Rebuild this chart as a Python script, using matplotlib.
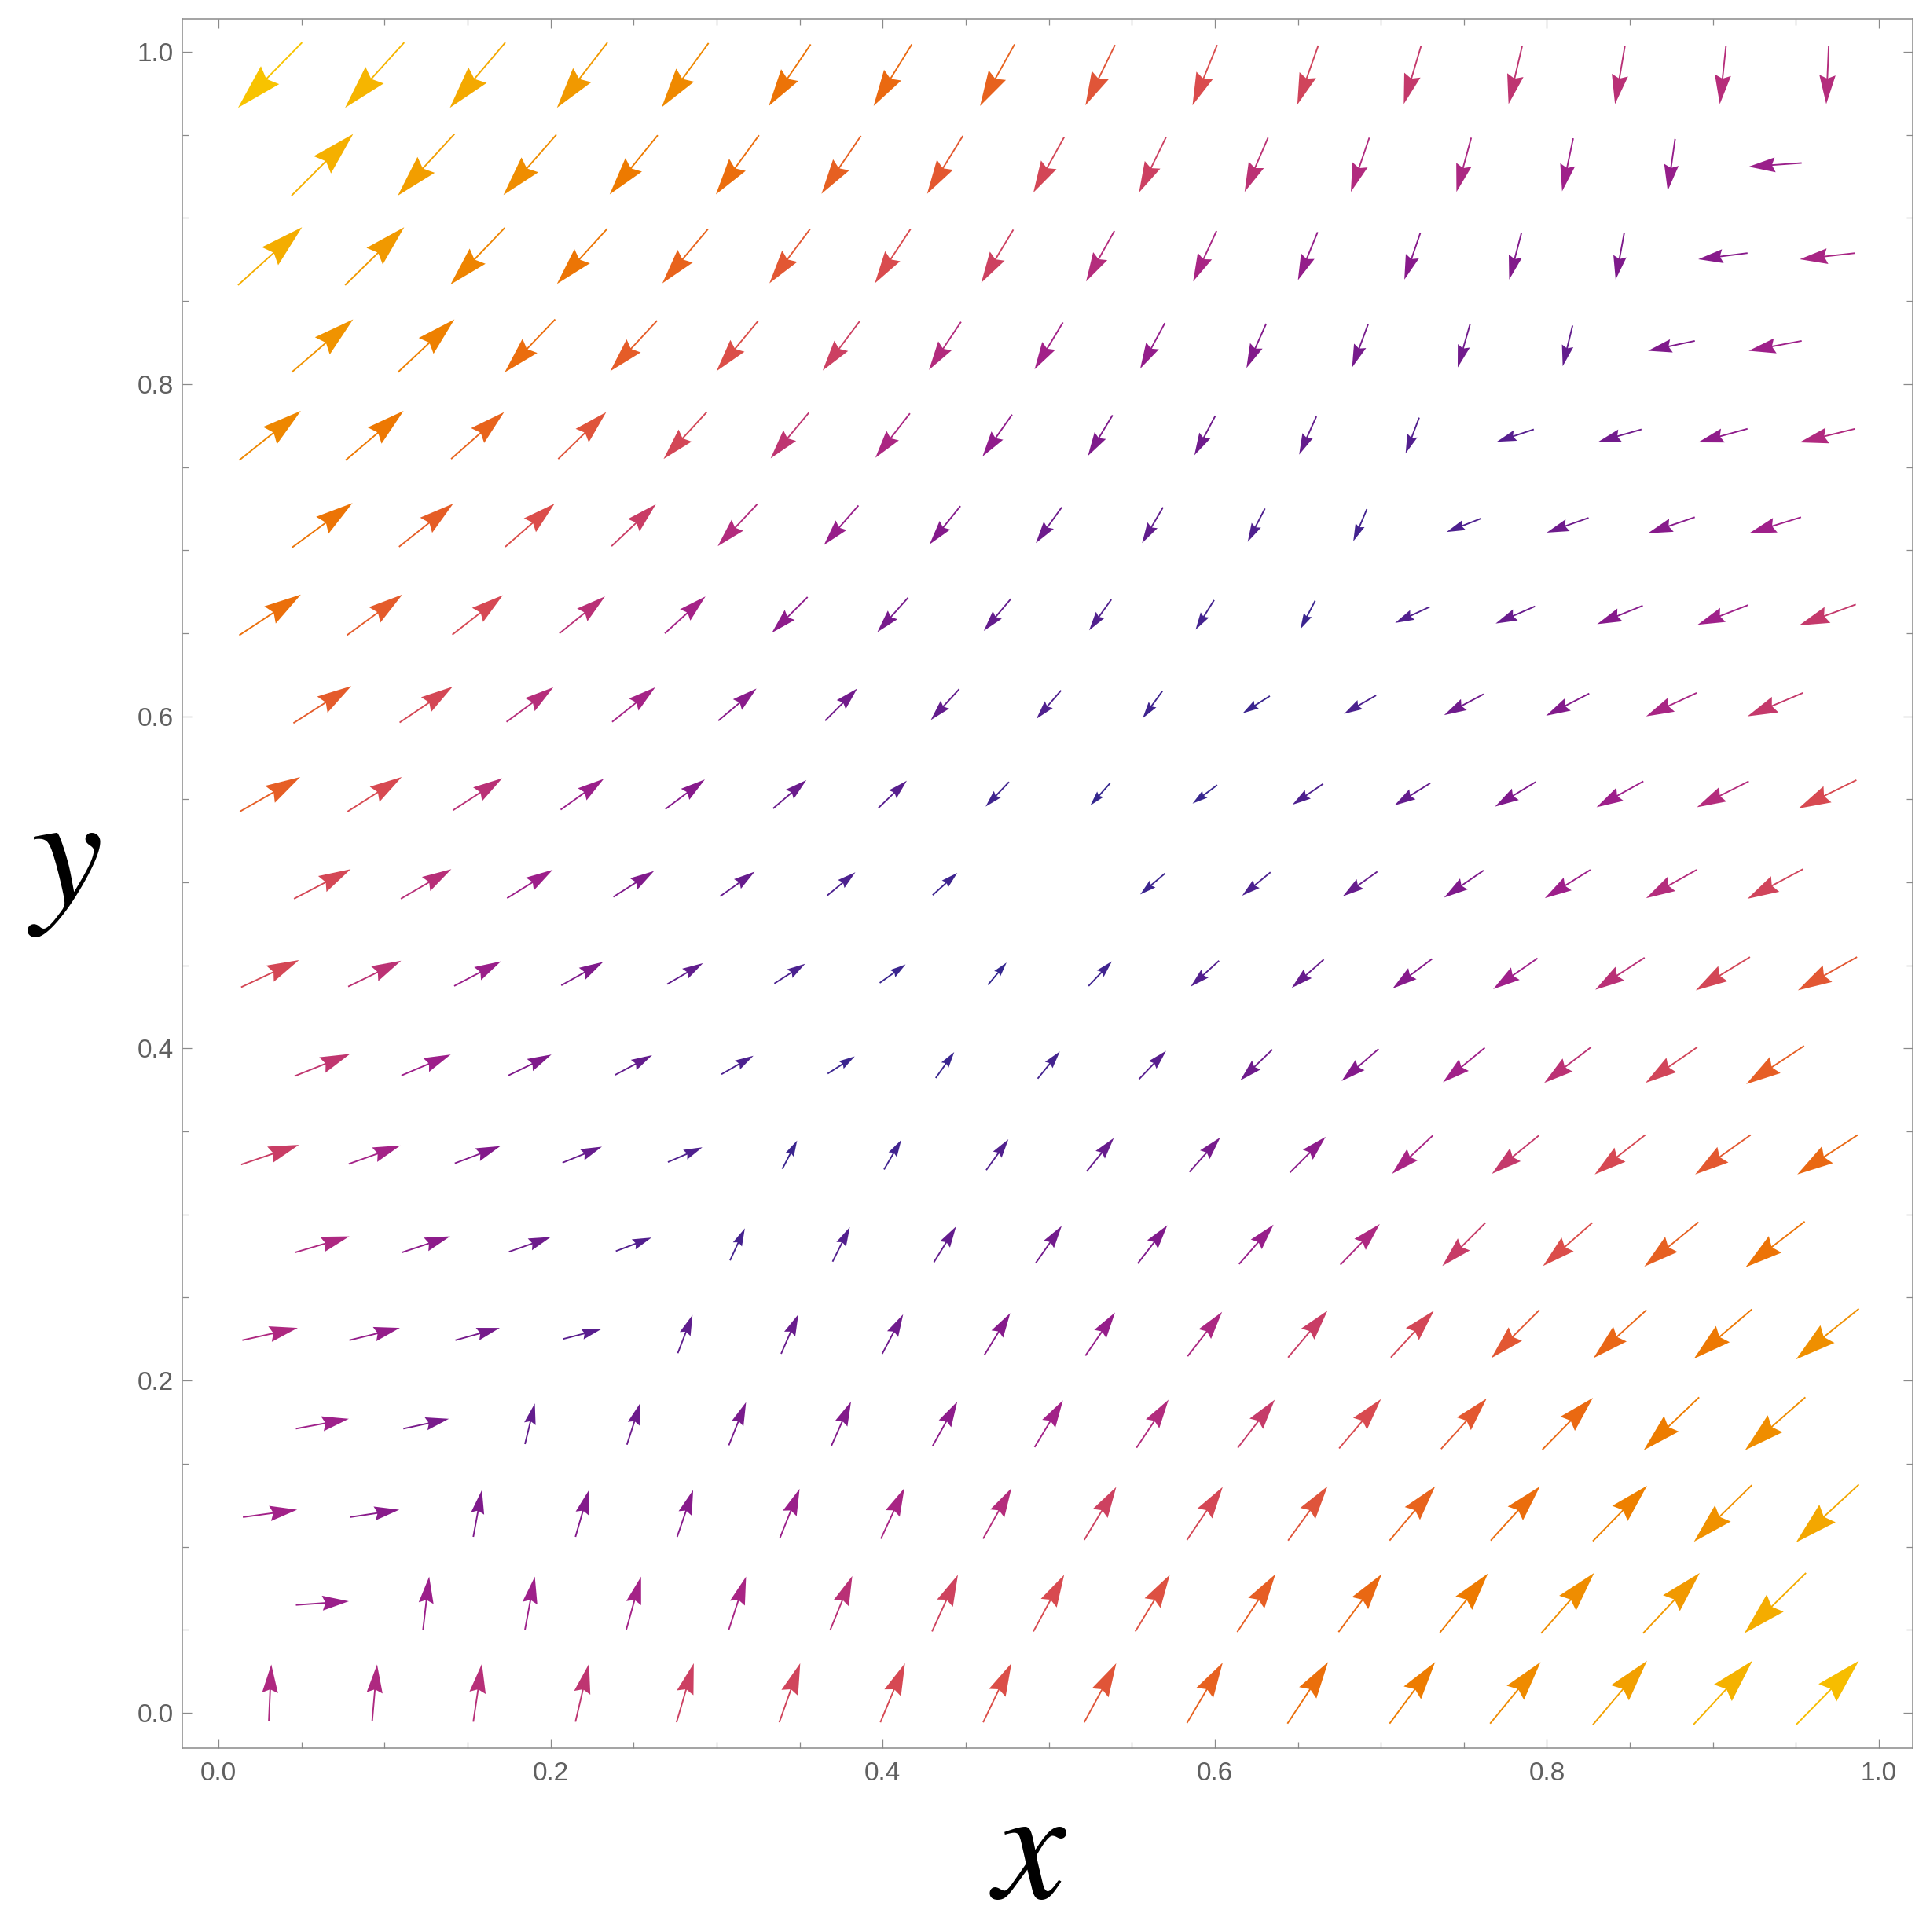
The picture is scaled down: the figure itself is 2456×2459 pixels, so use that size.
import numpy as np
import matplotlib
matplotlib.use('Agg')
import matplotlib.pyplot as plt
from matplotlib.colors import LinearSegmentedColormap, Normalize

plt.rcParams['mathtext.fontset'] = 'stix'

# sample points of the vector field (staggered rows, bottom to top)
y_rows = [0.012, 0.066, 0.120, 0.174, 0.228, 0.282, 0.336, 0.390, 0.445, 0.499,
          0.553, 0.607, 0.661, 0.715, 0.769, 0.823, 0.877, 0.932, 0.986]
x_even = [0.031, 0.094, 0.156, 0.219, 0.281, 0.344, 0.406, 0.469,
          0.531, 0.594, 0.656, 0.719, 0.781, 0.844, 0.906, 0.969]
x_odd = [0.0625, 0.125, 0.1875, 0.25, 0.3125, 0.375, 0.4375, 0.5,
         0.5625, 0.625, 0.6875, 0.75, 0.8125, 0.875, 0.9375]

# drawn arrow components (units of 1/1348 of the axis range)
arrow_dx = [
    [2, 4, 7, 11, 14, 17, 20, 23, 26, 29, 33, 37, 41, 44, 48, 51],
    [43, 5, 8, 12, 14, 18, 21, 25, 28, 31, 35, 39, 43, 46, -50],
    [44, 40, 7, 11, 13, 16, 19, 23, 26, 29, 32, 37, 40, 44, -47, -51],
    [43, 37, 8, 11, 14, 16, 20, 23, 26, 30, 34, 37, 41, -45, -49],
    [45, 41, 36, 31, 12, 14, 17, 21, 24, 28, 32, 35, -39, -43, -47, -51],
    [44, 39, 34, 29, 12, 14, 18, 21, 24, 28, 32, -35, -40, -44, -48],
    [47, 42, 37, 32, 28, 12, 14, 18, 22, 25, 29, -33, -38, -41, -45, -49],
    [45, 40, 35, 30, 26, 22, 15, 18, 22, -26, -30, -34, -38, -42, -47],
    [47, 43, 38, 34, 29, 25, 21, 15, 19, -23, -26, -32, -36, -40, -44, -48],
    [46, 41, 37, 33, 28, 23, 20, None, -20, -23, -28, -32, -37, -41, -45],
    [49, 44, 40, 35, 32, 27, 23, -19, -16, -20, -25, -29, -33, -38, -42, -47],
    [47, 43, 38, 35, 31, 26, -23, -20, -16, -22, -26, -32, -35, -41, -45],
    [50, 45, 41, 37, 33, -29, -25, -22, -18, -15, -12, -28, -32, -37, -41, -46],
    [49, 44, 40, 36, -32, -28, -25, -21, -17, -14, -11, -28, -34, -38, -42],
    [50, 47, 43, 39, -35, -31, -28, -24, -20, -17, -14, -11, -30, -35, -40, -45],
    [50, 46, -41, -38, -34, -30, -26, -23, -20, -16, -13, -10, -8, -38, -43],
    [52, 48, -44, -41, -37, -33, -29, -26, -23, -19, -16, -13, -10, -7, -40, -45],
    [50, -46, -43, -39, -35, -32, -29, -25, -22, -19, -15, -12, -9, -6, -43],
    [-52, -48, -45, -41, -38, -34, -31, -28, -24, -20, -17, -14, -11, -8, -5, -2],
]
arrow_dy = [
    [46, 46, 47, 47, 48, 48, 48, 48, 48, 49, 50, 50, 50, 52, 52, 52],
    [3, 43, 43, 43, 43, 44, 46, 46, 46, 47, 47, 48, 49, 49, -49],
    [6, 6, 38, 38, 38, 40, 41, 41, 43, 43, 44, 44, 44, 45, -46, -47],
    [8, 8, 33, 34, 35, 36, 36, 38, 39, 39, 40, 41, 42, -43, -43],
    [10, 10, 10, 8, 31, 32, 32, 34, 35, 36, 38, 38, -39, -39, -40, -41],
    [13, 13, 12, 11, 26, 28, 29, 30, 31, 32, 33, -35, -35, -36, -37],
    [16, 15, 14, 13, 12, 23, 24, 25, 27, 28, 29, -31, -31, -32, -32, -32],
    [18, 17, 17, 16, 15, 14, 21, 22, 23, -25, -26, -28, -29, -29, -31],
    [22, 21, 20, 19, 17, 16, 15, 18, 20, -21, -23, -24, -25, -26, -27, -27],
    [24, 24, 23, 21, 20, 19, 18, None, -17, -19, -20, -22, -23, -23, -24],
    [28, 28, 26, 25, 24, 23, 22, -20, -18, -15, -17, -18, -20, -21, -21, -23],
    [30, 29, 28, 28, 26, 26, -25, -23, -22, -14, -15, -17, -18, -19, -19],
    [33, 33, 32, 30, 30, -29, -28, -26, -25, -24, -23, -13, -14, -15, -16, -17],
    [36, 35, 35, 34, -34, -32, -31, -29, -29, -27, -26, -11, -12, -13, -13],
    [40, 40, 38, 38, -38, -37, -36, -34, -33, -32, -31, -29, -10, -10, -11, -11],
    [43, 43, -43, -41, -41, -40, -39, -38, -37, -36, -35, -35, -33, -8, -8],
    [47, 47, -46, -45, -44, -44, -44, -43, -41, -41, -39, -38, -38, -38, -5, -5],
    [50, -50, -49, -48, -48, -47, -47, -45, -45, -44, -44, -44, -43, -42, -3],
    [-53, -53, -53, -53, -52, -50, -50, -50, -49, -49, -48, -47, -47, -47, -47, -47],
]

tick_values = [0.0, 0.2, 0.4, 0.6, 0.8, 1.0]

# colour by arrow length (short = dark blue, long = yellow)
length_stops = [18, 24, 28, 32, 36, 40, 44, 47, 50, 53, 56, 59, 62, 65, 68, 71, 74]
stop_colors = ['#2a2b8f', '#35278f', '#42238f', '#581e8e', '#6e1b8c', '#861a8b',
               '#a0208a', '#b42c7c', '#cc4062', '#da4c4c', '#e55c28', '#ea6a10',
               '#ed7a00', '#ef8c00', '#f29e00', '#f5b200', '#f8c300']
lmin, lmax = length_stops[0], length_stops[-1]
cmap = LinearSegmentedColormap.from_list(
    'field', [((l - lmin) / (lmax - lmin), c) for l, c in zip(length_stops, stop_colors)])
norm = Normalize(vmin=lmin, vmax=lmax, clip=True)

px_per_unit = 1348.0

fig = plt.figure(figsize=(24.56, 24.59), dpi=100)
ax = fig.add_axes([0.0945, 0.0952, 0.8966, 0.8952])

for j, y in enumerate(y_rows):
    xs = x_even if j % 2 == 0 else x_odd
    for x, dx, dy in zip(xs, arrow_dx[j], arrow_dy[j]):
        if dx is None:
            continue
        length = np.hypot(dx, dy)
        u, v, L = dx / px_per_unit, dy / px_per_unit, length / px_per_unit
        ax.arrow(x - u / 2, y - v / 2, u, v, width=0.0009,
                 head_width=0.28 * L, head_length=0.5 * L, overhang=0.11,
                 length_includes_head=True, color=cmap(norm(length)), lw=0)

ax.set_xlim(-0.0218, 1.0204)
ax.set_ylim(-0.0213, 1.0201)
ax.set_xticks(tick_values)
ax.set_yticks(tick_values)
ax.set_xticklabels([f'{t:.1f}' for t in tick_values])
ax.set_yticklabels([f'{t:.1f}' for t in tick_values])
ax.set_xticks(np.arange(0, 1.001, 0.05), minor=True)
ax.set_yticks(np.arange(0, 1.001, 0.05), minor=True)

ax.tick_params(which='both', direction='in', top=True, right=True,
               color='#8a8a8a', width=0.9, labelcolor='#606060')
ax.tick_params(which='major', length=8.6, labelsize=24)
ax.tick_params(which='minor', length=5.5)
ax.tick_params(axis='x', pad=12)
ax.tick_params(axis='y', pad=8)
for lab in ax.get_xticklabels() + ax.get_yticklabels():
    lab.set_family('Liberation Sans')
for s in ax.spines.values():
    s.set_color('#8a8a8a')
    s.set_linewidth(1.1)

ax.text(0.489, -0.087, r'$x$', transform=ax.transAxes, fontsize=148,
        ha='center', va='baseline')
ax.text(-0.068, 0.488, r'$y$', transform=ax.transAxes, fontsize=148,
        ha='center', va='baseline')

fig.savefig('out.png', dpi=100)
